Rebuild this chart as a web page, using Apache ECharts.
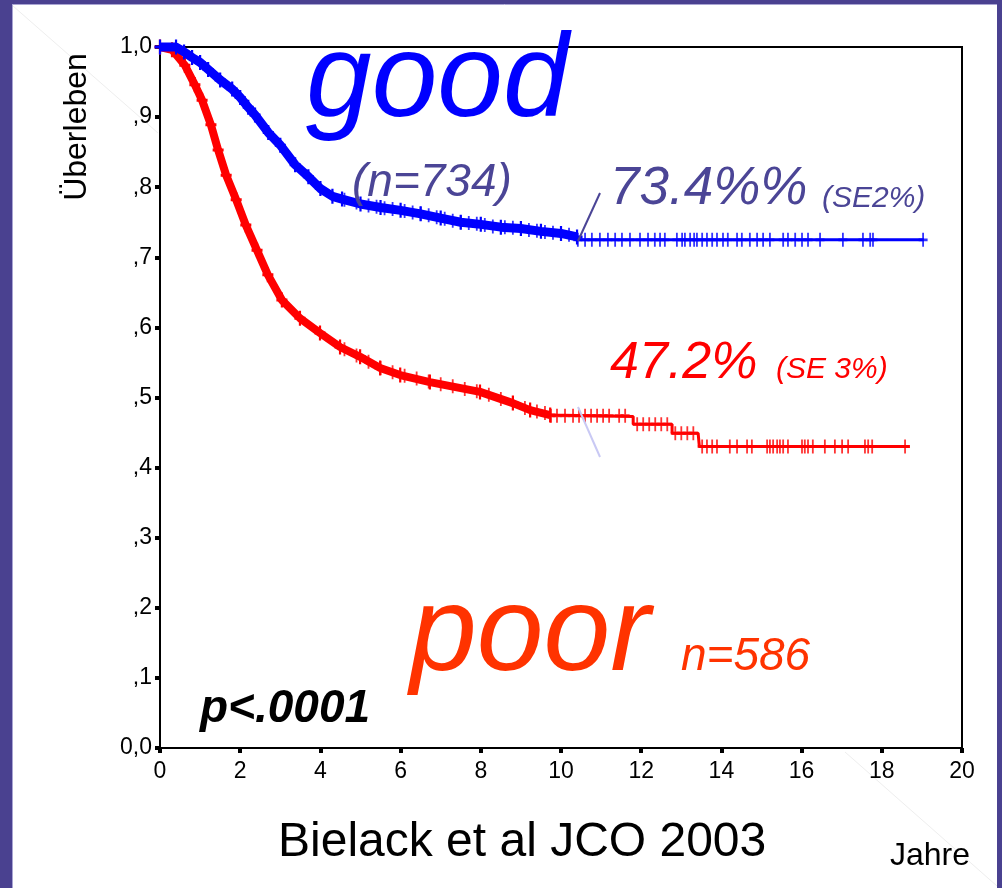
<!DOCTYPE html>
<html>
<head>
<meta charset="utf-8">
<script src="https://cdn.jsdelivr.net/npm/echarts@6/dist/echarts.min.js"></script>
<style>
  html, body { margin: 0; padding: 0; background: #ffffff; }
  #chart { width: 1002px; height: 888px; }
</style>
</head>
<body>
<div id="chart"></div>
<script>
// ---------- DATA ----------
const xTickValues = [0, 2, 4, 6, 8, 10, 12, 14, 16, 18, 20];
const yTickLabels = ['0,0', ',1', ',2', ',3', ',4', ',5', ',6', ',7', ',8', ',9', '1,0'];

// Kaplan-Meier curve, group "good" (n=734): [years, survival]
const goodCurve = [
  [0, 1.0], [0.4, 1.0], [0.6, 0.993], [0.8, 0.985], [1.0, 0.978], [1.2, 0.968], [1.5, 0.953],
  [1.8, 0.94], [2.0, 0.928], [2.2, 0.914], [2.37, 0.903], [2.7, 0.878], [3.0, 0.86],
  [3.37, 0.832], [3.7, 0.815], [4.0, 0.798], [4.3, 0.787], [4.54, 0.783], [5.0, 0.776],
  [5.5, 0.771], [6.0, 0.767], [6.5, 0.762], [7.0, 0.756], [7.5, 0.75], [8.0, 0.747],
  [8.5, 0.743], [9.0, 0.741], [9.5, 0.737], [10.0, 0.734], [10.4, 0.729], [10.45, 0.725],
  [19.05, 0.725]
];
// censored observations, group "good"
const goodCensored = [
  [4.6, 0.782], [4.9, 0.778], [5.2, 0.774], [5.4, 0.772], [5.6, 0.770], [5.8, 0.769],
  [6.1, 0.766], [6.3, 0.764], [6.5, 0.762], [6.7, 0.760], [6.9, 0.757], [7.1, 0.755],
  [7.3, 0.752], [7.5, 0.750], [7.7, 0.749], [7.9, 0.748], [8.1, 0.746], [8.3, 0.744],
  [8.6, 0.743], [8.8, 0.742], [9.0, 0.741], [9.2, 0.739], [9.4, 0.738], [9.6, 0.736],
  [9.8, 0.735], [10.0, 0.734], [10.2, 0.732],
  [10.42, 0.725], [10.6, 0.725], [10.77, 0.725], [10.97, 0.725], [11.17, 0.725], [11.35, 0.725],
  [11.52, 0.725], [11.72, 0.725], [11.97, 0.725], [12.17, 0.725], [12.34, 0.725], [12.47, 0.725],
  [12.59, 0.725], [12.89, 0.725], [13.02, 0.725], [13.09, 0.725], [13.22, 0.725], [13.32, 0.725],
  [13.39, 0.725], [13.52, 0.725], [13.64, 0.725], [13.77, 0.725], [13.89, 0.725], [14.04, 0.725],
  [14.16, 0.725], [14.39, 0.725], [14.51, 0.725], [14.71, 0.725], [14.89, 0.725], [15.04, 0.725],
  [15.21, 0.725], [15.54, 0.725], [15.66, 0.725], [15.84, 0.725], [16.01, 0.725], [16.16, 0.725],
  [16.46, 0.725], [17.03, 0.725], [17.53, 0.725], [17.71, 0.725], [17.78, 0.725], [19.03, 0.725]
];

// Kaplan-Meier curve, group "poor" (n=586)
const poorCurve = [
  [0, 1.0], [0.3, 0.996], [0.62, 0.974], [0.87, 0.946], [1.05, 0.924], [1.27, 0.889],
  [1.45, 0.853], [1.65, 0.817], [1.9, 0.782], [2.14, 0.746], [2.42, 0.71], [2.69, 0.675],
  [3.04, 0.639], [3.49, 0.613], [3.99, 0.592], [4.49, 0.572], [4.99, 0.558], [5.49, 0.542],
  [5.99, 0.532], [6.73, 0.522], [7.98, 0.508], [8.8, 0.492], [9.23, 0.482], [9.73, 0.475],
  [11.8, 0.473], [11.8, 0.462], [12.77, 0.462], [12.77, 0.449], [13.42, 0.449], [13.45, 0.43],
  [18.7, 0.43]
];
// censored observations, group "poor"
const poorCensored = [
  [4.6, 0.569], [4.9, 0.560], [5.2, 0.551], [5.5, 0.542], [5.8, 0.536], [6.1, 0.531],
  [6.4, 0.527], [6.7, 0.523], [7.0, 0.519], [7.3, 0.516], [7.6, 0.512], [7.9, 0.509],
  [8.2, 0.504], [8.5, 0.498], [8.8, 0.492], [9.1, 0.485], [9.4, 0.480], [9.6, 0.478],
  [9.75, 0.474], [9.9, 0.474], [10.1, 0.474], [10.3, 0.474], [10.45, 0.474], [10.6, 0.474],
  [10.75, 0.474], [10.9, 0.474], [11.05, 0.474], [11.2, 0.474], [11.45, 0.474], [11.6, 0.474],
  [11.9, 0.462], [12.05, 0.462], [12.2, 0.462], [12.35, 0.462], [12.5, 0.462], [12.65, 0.462],
  [12.85, 0.449], [13.0, 0.449], [13.15, 0.449], [13.3, 0.449],
  [13.52, 0.43], [13.64, 0.43], [13.77, 0.43], [13.89, 0.43], [14.21, 0.43], [14.39, 0.43],
  [14.64, 0.43], [14.76, 0.43], [15.14, 0.43], [15.21, 0.43], [15.29, 0.43], [15.39, 0.43],
  [15.46, 0.43], [15.54, 0.43], [15.66, 0.43], [16.01, 0.43], [16.08, 0.43], [16.16, 0.43],
  [16.28, 0.43], [16.58, 0.43], [16.83, 0.43], [17.01, 0.43], [17.16, 0.43], [17.58, 0.43],
  [17.66, 0.43], [17.76, 0.43], [18.58, 0.43]
];

// ---------- CHART ----------
const FONT = '"Liberation Sans", Arial, Helvetica, sans-serif';
const PLUS = 'path://M4,0H6V4H10V6H6V10H4V6H0V4H4Z';
const PURPLE = '#4b4596';
const FRAME = '#4a4190';

const goodBand = goodCurve.filter(p => p[0] <= 10.4);
const poorBand = poorCurve.filter(p => p[0] <= 9.8);

function txt(x, y, text, fontSize, color, style, extra) {
  return Object.assign({
    type: 'text', x: x, y: y, z: 50,
    style: {
      text: text, fill: color,
      font: (style || '') + ' ' + fontSize + 'px ' + FONT,
      align: 'left', verticalAlign: 'middle'
    }
  }, extra || {});
}
// baseline -> middle offset (empirical for this renderer)
function mid(baseline, fs) { return baseline - (fs > 100 ? 0.25 : 0.29) * fs; }

const chart = echarts.init(document.getElementById('chart'), null, { renderer: 'canvas' });
chart.setOption({
  animation: false,
  backgroundColor: '#ffffff',
  grid: {
    left: 160, right: 40, top: 47, bottom: 140,
    show: true, backgroundColor: '#ffffff', borderColor: '#000', borderWidth: 2
  },
  xAxis: {
    type: 'value', min: 0, max: 20, interval: 2,
    axisLine: { show: true, onZero: false, lineStyle: { color: '#000', width: 2 } },
    axisTick: { show: true, length: 5, lineStyle: { color: '#000', width: 4 } },
    splitLine: { show: false },
    axisLabel: {
      color: '#000', fontSize: 23, fontFamily: FONT, margin: 12,
      formatter: v => (xTickValues.indexOf(v) >= 0 ? String(v) : '')
    }
  },
  yAxis: {
    type: 'value', min: 0, max: 1, interval: 0.1,
    axisLine: { show: true, lineStyle: { color: '#000', width: 2 } },
    axisTick: { show: true, length: 5, lineStyle: { color: '#000', width: 4 } },
    splitLine: { show: false },
    axisLabel: {
      color: '#000', fontSize: 23, fontFamily: FONT, margin: 8,
      formatter: v => yTickLabels[Math.round(v * 10)]
    }
  },
  series: [
    { type: 'line', data: poorBand, clip: false, z: 3, showSymbol: true, symbol: PLUS,
      symbolSize: [11, 15], itemStyle: { color: '#ff0000' },
      lineStyle: { color: '#ff0000', width: 8, cap: 'butt' }, silent: true },
    { type: 'line', data: poorCurve, clip: false, z: 3, showSymbol: false,
      lineStyle: { color: '#ff0000', width: 3 }, silent: true },
    { type: 'scatter', data: poorCensored, clip: false, z: 4, symbol: PLUS, symbolSize: [9, 14],
      itemStyle: { color: '#ff0000' }, silent: true },
    { type: 'line', data: goodBand, clip: false, z: 5, showSymbol: true, symbol: PLUS,
      symbolSize: [11, 15], itemStyle: { color: '#0000ff' },
      lineStyle: { color: '#0000ff', width: 9, cap: 'butt' }, silent: true },
    { type: 'line', data: goodCurve, clip: false, z: 5, showSymbol: false,
      lineStyle: { color: '#0000ff', width: 3 }, silent: true },
    { type: 'scatter', data: goodCensored, clip: false, z: 6, symbol: PLUS, symbolSize: [9, 14],
      itemStyle: { color: '#0000ff' }, silent: true }
  ],
  graphic: [
    // slide frame
    { type: 'rect', shape: { x: 0, y: 0, width: 12, height: 888 }, style: { fill: FRAME }, z: 100 },
    { type: 'rect', shape: { x: 0, y: 0, width: 1002, height: 4 }, style: { fill: FRAME }, z: 100 },
    { type: 'rect', shape: { x: 997, y: 0, width: 5, height: 888 }, style: { fill: FRAME }, z: 100 },
    { type: 'line', shape: { x1: 12, y1: 4.5, x2: 997, y2: 4.5 }, style: { stroke: '#a9a5d3', lineWidth: 1 }, z: 100 },
    { type: 'line', shape: { x1: 12.5, y1: 4, x2: 12.5, y2: 888 }, style: { stroke: '#a9a5d3', lineWidth: 1 }, z: 100 },
    // faint slide diagonals
    { type: 'line', shape: { x1: 13, y1: 6, x2: 158, y2: 133 }, style: { stroke: '#eeeeee', lineWidth: 1 }, z: 0 },
    { type: 'line', shape: { x1: 845, y1: 752, x2: 997, y2: 886 }, style: { stroke: '#eeeeee', lineWidth: 1 }, z: 0 },
    // pointer lines
    { type: 'line', shape: { x1: 578, y1: 241, x2: 600, y2: 193 }, style: { stroke: PURPLE, lineWidth: 2 }, z: 40 },
    { type: 'line', shape: { x1: 578, y1: 407, x2: 600, y2: 457 }, style: { stroke: '#c9c9f4', lineWidth: 2 }, z: 40 },
    // annotations
    txt(306, mid(113, 118), 'good', 118, '#0000ff', 'italic'),
    txt(352, mid(197, 46), '(n=734)', 46, PURPLE, 'italic'),
    txt(610, mid(205, 53), '73.4%%', 53, PURPLE, 'italic'),
    txt(822, mid(207, 30), '(SE2%)', 30, PURPLE, 'italic'),
    txt(610, mid(379, 52), '47.2%', 52, '#ff0000', 'italic'),
    txt(776, mid(378, 30), '(SE 3%)', 30, '#ff0000', 'italic'),
    txt(410, mid(667, 120), 'poor', 120, '#ff3300', 'italic'),
    txt(681, mid(671, 46), 'n=586', 46, '#ff3300', 'italic'),
    txt(200, mid(723, 46), 'p<.0001', 46, '#000000', 'italic bold'),
    txt(278, mid(857, 48), 'Bielack et al JCO 2003', 48, '#000000', ''),
    txt(890, mid(865, 32), 'Jahre', 32, '#000000', ''),
    {
      type: 'text', x: 77, y: 127, rotation: Math.PI / 2, z: 50,
      style: { text: 'Überleben', fill: '#000', font: '32px ' + FONT, align: 'center', verticalAlign: 'middle' }
    }
  ]
});
</script>
</body>
</html>
